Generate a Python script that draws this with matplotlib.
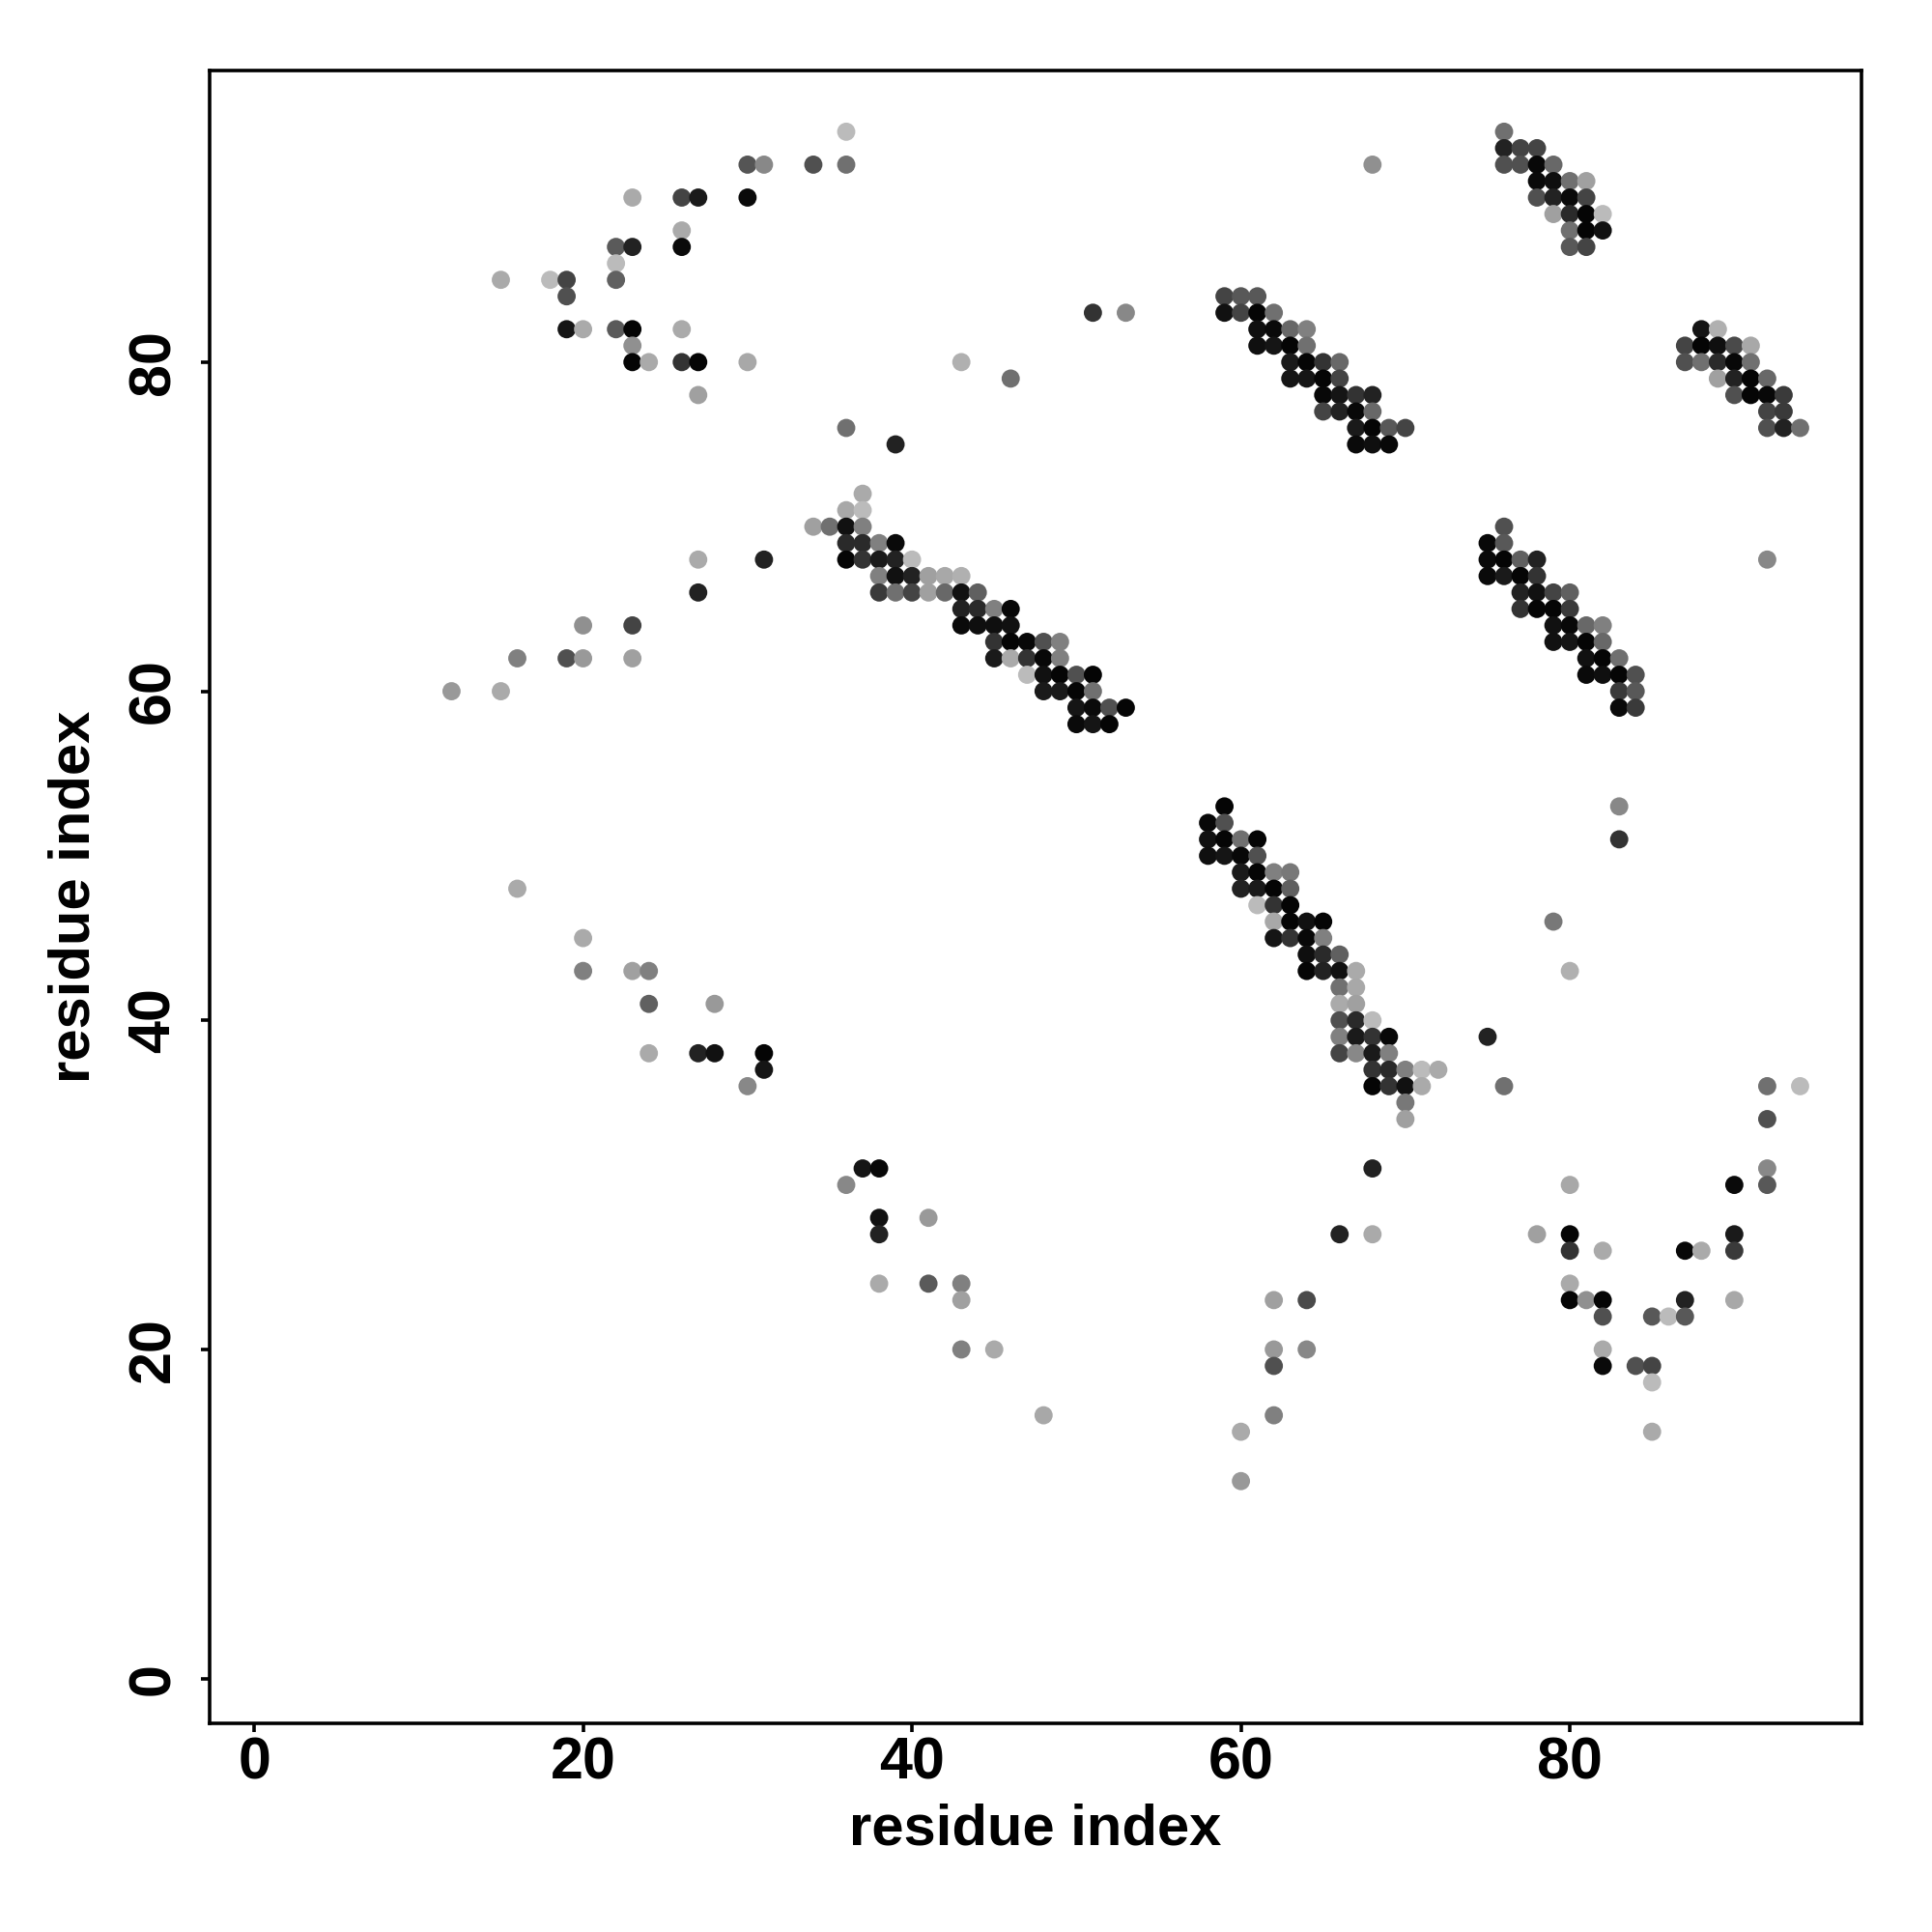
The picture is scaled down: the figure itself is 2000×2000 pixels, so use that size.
import matplotlib
matplotlib.use('Agg')
import matplotlib.pyplot as plt
import numpy as np

upper_left = [(30, 92, 0x55), (31, 92, 0x88), (23, 90, 0xaa), (26, 90, 0x44), (27, 90, 0x1a),
              (30, 90, 0x0a), (26, 88, 0xaa), (26, 87, 0x0a), (22, 87, 0x5a), (23, 87, 0x22),
              (22, 86, 0xbb), (22, 85, 0x60), (15, 85, 0xaa), (18, 85, 0xbb), (19, 85, 0x44),
              (19, 84, 0x50), (19, 82, 0x15), (20, 82, 0xaa), (22, 82, 0x5a), (23, 82, 0x05),
              (26, 82, 0xaa), (23, 81, 0x90), (23, 80, 0x05), (24, 80, 0xaa), (26, 80, 0x33),
              (27, 80, 0x05), (30, 80, 0xa8), (27, 78, 0xa0)]

left_mid = [(27, 68, 0xaa), (31, 68, 0x22), (27, 66, 0x22), (20, 64, 0x90), (23, 64, 0x44),
            (16, 62, 0x80), (19, 62, 0x50), (20, 62, 0x99), (23, 62, 0xa0), (12, 60, 0x99),
            (15, 60, 0xaa), (16, 48, 0xaa), (20, 45, 0xaa), (20, 43, 0x80), (23, 43, 0xa0),
            (24, 43, 0x80), (24, 41, 0x60), (28, 41, 0x99), (24, 38, 0xaa), (27, 38, 0x22),
            (28, 38, 0x11), (31, 38, 0x05), (31, 37, 0x15), (30, 36, 0x88)]

upper_mid = [(36, 94, 0xbb), (34, 92, 0x50), (36, 92, 0x70), (51, 83, 0x33), (53, 83, 0x88),
             (43, 80, 0xb0), (46, 79, 0x70), (36, 76, 0x70), (39, 75, 0x22), (68, 92, 0x90)]

diag_a = [(37, 72, 0xaa), (36, 71, 0xa8), (37, 71, 0xbb),
          (34, 70, 0xa0), (35, 70, 0x70), (36, 70, 0x11), (37, 70, 0x80),
          (36, 69, 0x2a), (37, 69, 0x2a), (38, 69, 0x80), (39, 69, 0x0a),
          (36, 68, 0x05), (37, 68, 0x33), (38, 68, 0x1a), (39, 68, 0x22), (40, 68, 0xbb),
          (38, 67, 0x80), (39, 67, 0x11), (40, 67, 0x22), (41, 67, 0xa0), (42, 67, 0xa8), (43, 67, 0xb0),
          (38, 66, 0x3a), (39, 66, 0x70), (40, 66, 0x44), (41, 66, 0xa0), (42, 66, 0x68), (43, 66, 0x11),
          (44, 66, 0x60),
          (43, 65, 0x22), (44, 65, 0x2a), (45, 65, 0x80), (46, 65, 0x08),
          (43, 64, 0x0a), (44, 64, 0x0f), (45, 64, 0x0f), (46, 64, 0x11),
          (45, 63, 0x33), (46, 63, 0x05), (47, 63, 0x08), (48, 63, 0x50), (49, 63, 0x80),
          (45, 62, 0x1a), (46, 62, 0xaa), (47, 62, 0x33), (48, 62, 0x08), (49, 62, 0x80),
          (47, 61, 0xbb), (48, 61, 0x11), (49, 61, 0x05), (50, 61, 0x50), (51, 61, 0x05),
          (48, 60, 0x1a), (49, 60, 0x1a), (50, 60, 0x05), (51, 60, 0x70),
          (50, 59, 0x15), (51, 59, 0x0a), (52, 59, 0x50), (53, 59, 0x05),
          (50, 58, 0x0a), (51, 58, 0x15), (52, 58, 0x05)]

low_mid = [(37, 31, 0x15), (38, 31, 0x08), (36, 30, 0x88), (38, 28, 0x11), (38, 27, 0x22),
           (41, 28, 0x99), (38, 24, 0xaa), (41, 24, 0x5a), (43, 24, 0x80), (43, 23, 0xa0),
           (43, 20, 0x80), (45, 20, 0xaa), (48, 16, 0xa8)]

diag_b = [(59, 53, 0x05),
          (58, 52, 0x08), (59, 52, 0x50),
          (58, 51, 0x11), (59, 51, 0x05), (60, 51, 0x70), (61, 51, 0x05),
          (58, 50, 0x0f), (59, 50, 0x15), (60, 50, 0x08), (61, 50, 0x50),
          (60, 49, 0x1a), (61, 49, 0x05), (62, 49, 0x80), (63, 49, 0x78),
          (60, 48, 0x22), (61, 48, 0x1a), (62, 48, 0x05), (63, 48, 0x60),
          (61, 47, 0xbb), (62, 47, 0x33), (63, 47, 0x05),
          (62, 46, 0xa8), (63, 46, 0x05), (64, 46, 0x11), (65, 46, 0x05),
          (62, 45, 0x15), (63, 45, 0x33), (64, 45, 0x08), (65, 45, 0x80),
          (64, 44, 0x0f), (65, 44, 0x2a), (66, 44, 0x60),
          (64, 43, 0x05), (65, 43, 0x22), (66, 43, 0x11), (67, 43, 0xaa),
          (66, 42, 0x70), (67, 42, 0xa8),
          (66, 41, 0xaa), (67, 41, 0xa0),
          (66, 40, 0x50), (67, 40, 0x2a), (68, 40, 0xbb),
          (66, 39, 0x80), (67, 39, 0x1a), (68, 39, 0x33), (69, 39, 0x08),
          (66, 38, 0x44), (67, 38, 0x88), (68, 38, 0x1a), (69, 38, 0x80),
          (68, 37, 0x33), (69, 37, 0x2a), (70, 37, 0x80), (71, 37, 0xbb), (72, 37, 0xaa),
          (68, 36, 0x05), (69, 36, 0x33), (70, 36, 0x11), (71, 36, 0xaa),
          (70, 35, 0x78), (70, 34, 0xa0)]

diag_c = [(59, 84, 0x44), (60, 84, 0x58), (61, 84, 0x58),
          (59, 83, 0x11), (60, 83, 0x44), (61, 83, 0x05), (62, 83, 0x70),
          (61, 82, 0x0f), (62, 82, 0x0a), (63, 82, 0x68), (64, 82, 0x80),
          (61, 81, 0x0f), (62, 81, 0x15), (63, 81, 0x05), (64, 81, 0x70),
          (63, 80, 0x1a), (64, 80, 0x05), (65, 80, 0x33), (66, 80, 0x68),
          (63, 79, 0x15), (64, 79, 0x15), (65, 79, 0x05), (66, 79, 0x44),
          (65, 78, 0x08), (66, 78, 0x15), (67, 78, 0x33), (68, 78, 0x22),
          (65, 77, 0x44), (66, 77, 0x22), (67, 77, 0x08), (68, 77, 0x68),
          (67, 76, 0x1a), (68, 76, 0x05), (69, 76, 0x58), (70, 76, 0x44),
          (67, 75, 0x0a), (68, 75, 0x0f), (69, 75, 0x08)]

low_c = [(68, 31, 0x22), (66, 27, 0x22), (68, 27, 0xaa), (62, 23, 0xa0), (64, 23, 0x4a),
         (62, 20, 0x99), (64, 20, 0x88), (62, 19, 0x50), (62, 16, 0x80), (60, 15, 0xaa),
         (60, 12, 0x99)]

upper_right = [(76, 94, 0x70),
               (76, 93, 0x22), (77, 93, 0x44), (78, 93, 0x44),
               (76, 92, 0x50), (77, 92, 0x50), (78, 92, 0x08), (79, 92, 0x68),
               (78, 91, 0x0a), (79, 91, 0x0f), (80, 91, 0x70), (81, 91, 0xa0),
               (78, 90, 0x50), (79, 90, 0x22), (80, 90, 0x0a), (81, 90, 0x44),
               (79, 89, 0xa0), (80, 89, 0x2a), (81, 89, 0x05), (82, 89, 0xbb),
               (80, 88, 0x70), (81, 88, 0x05), (82, 88, 0x11),
               (80, 87, 0x58), (81, 87, 0x44),
               (88, 82, 0x15), (89, 82, 0xb0),
               (87, 81, 0x44), (88, 81, 0x05), (89, 81, 0x0f), (90, 81, 0x4a), (91, 81, 0xa8),
               (87, 80, 0x50), (88, 80, 0x70), (89, 80, 0x2a), (90, 80, 0x08), (91, 80, 0x70),
               (89, 79, 0xa0), (90, 79, 0x22), (91, 79, 0x05), (92, 79, 0x68),
               (90, 78, 0x50), (91, 78, 0x05), (92, 78, 0x08), (93, 78, 0x3a),
               (92, 77, 0x44), (93, 77, 0x3a),
               (92, 76, 0x50), (93, 76, 0x22), (94, 76, 0x70)]

right_mid = [(76, 70, 0x50),
             (75, 69, 0x08), (76, 69, 0x58),
             (75, 68, 0x0a), (76, 68, 0x05), (77, 68, 0x60), (78, 68, 0x22),
             (75, 67, 0x0a), (76, 67, 0x1a), (77, 67, 0x05), (78, 67, 0x33),
             (77, 66, 0x22), (78, 66, 0x11), (79, 66, 0x44), (80, 66, 0x60),
             (77, 65, 0x33), (78, 65, 0x05), (79, 65, 0x05), (80, 65, 0x3a),
             (79, 64, 0x11), (80, 64, 0x08), (81, 64, 0x68), (82, 64, 0x80),
             (79, 63, 0x11), (80, 63, 0x15), (81, 63, 0x05), (82, 63, 0x68),
             (81, 62, 0x11), (82, 62, 0x05), (83, 62, 0x70),
             (81, 61, 0x0a), (82, 61, 0x0f), (83, 61, 0x05), (84, 61, 0x50),
             (83, 60, 0x3a), (84, 60, 0x58),
             (83, 59, 0x0a), (84, 59, 0x3a),
             (92, 68, 0x88)]

lower_right = [(83, 53, 0x88), (83, 51, 0x33), (79, 46, 0x78), (80, 43, 0xb0), (75, 39, 0x22),
               (76, 36, 0x70), (92, 36, 0x70), (94, 36, 0xbb), (92, 34, 0x50), (92, 31, 0x88),
               (92, 30, 0x58), (90, 30, 0x0a), (80, 30, 0xa8), (78, 27, 0xa0), (80, 27, 0x05),
               (80, 26, 0x33), (82, 26, 0xaa), (87, 26, 0x08), (88, 26, 0xaa), (90, 27, 0x1a),
               (90, 26, 0x3a), (80, 24, 0xaa), (80, 23, 0x05), (81, 23, 0x90), (82, 23, 0x05),
               (87, 23, 0x22), (90, 23, 0xa8), (82, 22, 0x50), (85, 22, 0x58), (86, 22, 0xbb),
               (87, 22, 0x58), (82, 20, 0xaa), (82, 19, 0x0a), (84, 19, 0x50), (85, 19, 0x44),
               (85, 18, 0xbb), (85, 15, 0xaa)]

ticks = [0, 20, 40, 60, 80]

plt.rcParams['font.family'] = ['Liberation Sans', 'DejaVu Sans']
plt.rcParams['font.weight'] = 'bold'

contacts = np.array(upper_left + left_mid + upper_mid + diag_a + low_mid +
                    diag_b + diag_c + low_c + upper_right + right_mid + lower_right)
xs = contacts[:, 0]
ys = contacts[:, 1]
grey = contacts[:, 2] / 255.0
colors = np.column_stack([grey, grey, grey])

fig = plt.figure(figsize=(10, 10), dpi=200)
ax = fig.add_axes([0.1084, 0.108, 0.855, 0.8555])

ax.scatter(xs, ys, s=46, c=colors, linewidths=0, marker='o')

ax.set_xlim(-2.72, 97.72)
ax.set_ylim(-2.72, 97.72)
ax.set_xticks(ticks)
ax.set_yticks(ticks)
ax.set_yticklabels([str(t) for t in ticks], rotation=90, va='center')

for sp in ax.spines.values():
    sp.set_linewidth(1.3)
ax.tick_params(axis='both', length=3.3, width=1.3, labelsize=22)
ax.tick_params(axis='x', pad=1.5)
ax.tick_params(axis='y', pad=7)
for lbl in ax.get_xticklabels() + ax.get_yticklabels():
    lbl.set_fontweight('bold')

ax.set_xlabel('residue index', fontsize=21.5, fontweight='bold', va='center')
ax.set_ylabel('residue index', fontsize=21.5, fontweight='bold', va='center')
ax.xaxis.set_label_coords(0.5, -0.064)
ax.yaxis.set_label_coords(-0.082, 0.5)

plt.savefig('out.png', dpi=200)
